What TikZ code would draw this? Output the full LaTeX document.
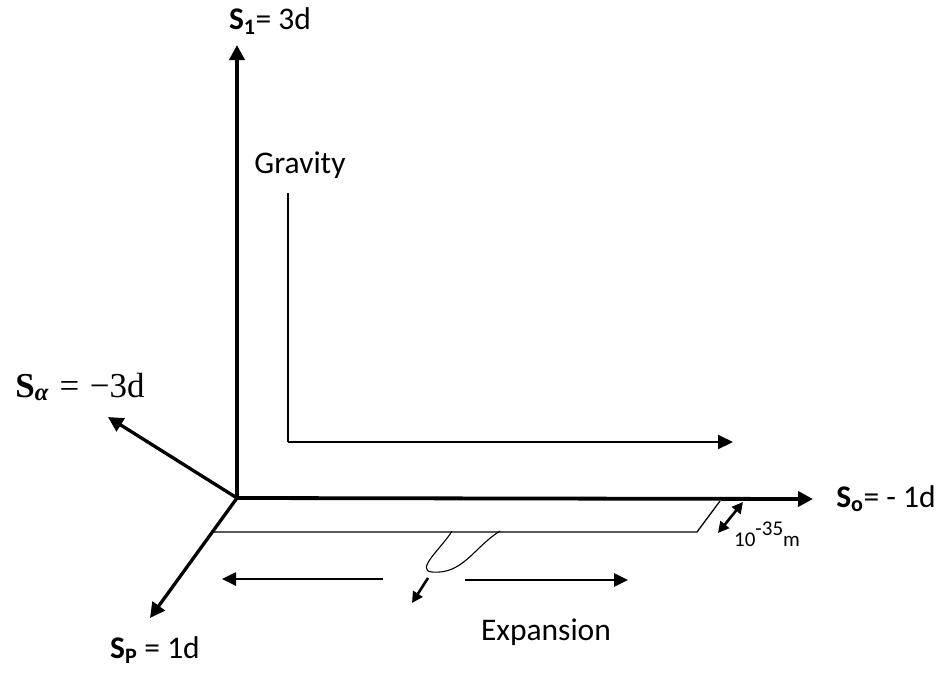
\documentclass[tikz,border=0pt]{standalone}
\usepackage{fontspec}
\setmainfont{Carlito}
\newfontfamily\serifmath{Liberation Serif}
\usetikzlibrary{arrows.meta}
\begin{document}
\begin{tikzpicture}[x=1pt,y=-1pt,
  axis/.style={line width=3.8pt,-{Triangle[length=15pt,width=15pt]}},
  midarrow/.style={line width=2.6pt,-{Triangle[length=14pt,width=13pt]}},
  dblarrow/.style={line width=2.6pt,{Triangle[length=11pt,width=11pt]}-{Triangle[length=11pt,width=11pt]}},
  thinline/.style={line width=1.3pt},
  lline/.style={line width=2pt},
  lbl/.style={font=\fontsize{31.5}{37}\selectfont, inner sep=0pt},
  smalllbl/.style={font=\fontsize{21}{25}\selectfont, inner sep=0pt, anchor=base west}]
\useasboundingbox (0,0) rectangle (945,683);

% axes
\coordinate (O) at (237,498);
\coordinate (S1tip) at (237,45);
\coordinate (Sotip) at (813,499);
\coordinate (Satip) at (108,417);
\coordinate (Sptip) at (150,618);
\draw[axis] (O) -- (S1tip);
\draw[axis] (O) -- (Sotip);
\draw[axis, line width=3.3pt] (O) -- (Satip);
\draw[axis, line width=3.3pt] (O) -- (Sptip);

% labels
\node[lbl] (S1) at (270,21) {\textbf{S\textsubscript{1}}= 3d};
\node[lbl] (So) at (886,499) {\textbf{S\textsubscript{o}}= - 1d};
\node[lbl] (Sp) at (155,650) {\textbf{S\textsubscript{P}} = 1d};
\node[lbl, font=\fontsize{35}{40}\selectfont\serifmath] (Sa) at (80,387) {\textbf{S}\textsubscript{\textbf{\textit{α}}}\hspace{0.3em}=\hspace{0.3em}−3d};
\node[lbl] (grav) at (300,165) {Gravity};
\node[lbl] (exp) at (546,632) {Expansion};

% gravity L
\coordinate (Ltop) at (288,193);
\coordinate (Lcorner) at (288,442);
\coordinate (Ltip) at (733,442);
\draw[lline] (Ltop) -- (Lcorner);
\draw[lline,-{Triangle[length=15pt,width=14pt]}] (Lcorner) -- (Ltip);

% thin sheet line
\coordinate (B1) at (213,532);
\coordinate (B2) at (697,532);
\coordinate (B3) at (720,501);
\draw[thinline] (B1) -- (B2) -- (B3);

% 10^-35 m
\coordinate (D1) at (743,502);
\coordinate (D2) at (718,533);
\draw[dblarrow] (D1) -- (D2);
\node[smalllbl] (size) at (734,546) {10\raisebox{11pt}{-35}m};

% loop
\coordinate (P1) at (452,531);
\coordinate (Pb) at (432,572);
\coordinate (P2) at (500,531);
\draw[line width=1.1pt] (P1) to[out=-120,in=175] (Pb) to[out=-5,in=-148] (P2);
\coordinate (a1) at (428,578);
\coordinate (a2) at (412,603);
\draw[line width=2.6pt,-{Triangle[length=11pt,width=11pt]}] (a1) -- (a2);

% expansion arrows
\coordinate (L1) at (383,579);
\coordinate (L2) at (222,579);
\coordinate (R1) at (465,580);
\coordinate (R2) at (628,580);
\draw[midarrow] (L1) -- (L2);
\draw[midarrow] (R1) -- (R2);
\end{tikzpicture}
\end{document}
